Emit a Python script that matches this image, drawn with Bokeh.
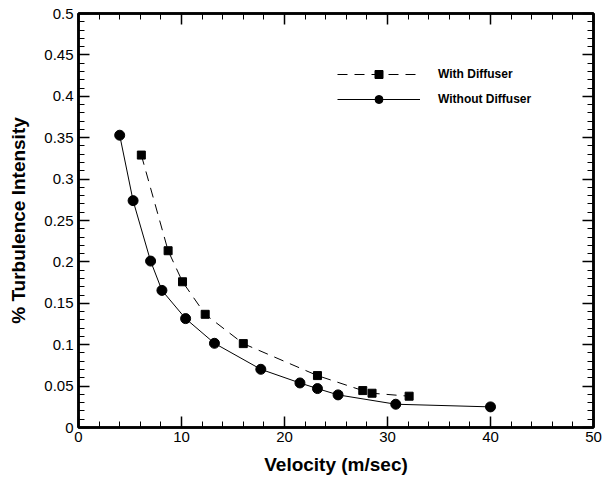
from bokeh.plotting import figure
from bokeh.models import LinearAxis, Range1d, Legend, LegendItem, FixedTicker, CustomJSTickFormatter
from bokeh.embed import file_html
from bokeh.resources import INLINE

# Data
with_x = [6.1, 8.7, 10.1, 12.3, 16.0, 23.2, 27.6, 28.5, 32.1]
with_y = [0.329, 0.2135, 0.176, 0.1367, 0.1013, 0.0627, 0.0446, 0.0414, 0.0378]
without_x = [4.0, 5.3, 7.0, 8.1, 10.4, 13.2, 17.7, 21.5, 23.2, 25.2, 30.8, 40.0]
without_y = [0.353, 0.274, 0.201, 0.1656, 0.1315, 0.1017, 0.0703, 0.0538, 0.047, 0.0394, 0.0281, 0.0249]
x_ticks = [0, 10, 20, 30, 40, 50]
y_ticks = [0, 0.05, 0.1, 0.15, 0.2, 0.25, 0.3, 0.35, 0.4, 0.45, 0.5]
x_minor = [v for v in range(0, 51, 2)]
y_minor = [round(i * 0.01, 2) for i in range(0, 51)]

FONT = "Liberation Sans"

p = figure(width=602, height=479, output_backend="svg", toolbar_location=None,
           x_range=Range1d(0, 50), y_range=Range1d(0, 0.5),
           x_axis_label="Velocity (m/sec)", y_axis_label="% Turbulence Intensity",
           min_border_left=78, min_border_right=9, min_border_top=13, min_border_bottom=52)
p.grid.visible = False
p.outline_line_color = "black"
p.outline_line_width = 2.5
p.background_fill_color = "white"
p.border_fill_color = "white"

def style_axis(ax, ticks, minor, labels=True):
    ax.ticker = FixedTicker(ticks=ticks, minor_ticks=minor)
    ax.axis_line_color = "black"
    ax.axis_line_width = 2.5
    ax.major_tick_in = 11
    ax.major_tick_out = 0
    ax.minor_tick_in = 6
    ax.minor_tick_out = 0
    ax.major_tick_line_width = 1.5
    ax.minor_tick_line_width = 1
    ax.major_tick_line_color = "black"
    ax.minor_tick_line_color = "black"
    if labels:
        ax.major_label_text_font = FONT
        ax.major_label_text_font_size = "15px"
        ax.major_label_text_color = "black"
        ax.axis_label_text_font = FONT
        ax.axis_label_text_font_size = "19px"
        ax.axis_label_text_font_style = "bold"
        ax.axis_label_text_color = "black"
    else:
        ax.formatter = CustomJSTickFormatter(code="return ''")
        ax.major_label_standoff = 0
        ax.axis_label = None

style_axis(p.xaxis[0], x_ticks, x_minor)
style_axis(p.yaxis[0], y_ticks, y_minor)
p.xaxis[0].major_label_standoff = 4
p.xaxis[0].axis_label_standoff = 9
p.yaxis[0].major_label_standoff = 5
p.yaxis[0].axis_label_standoff = 12

top = LinearAxis()
style_axis(top, x_ticks, x_minor, labels=False)
p.add_layout(top, "above")
right = LinearAxis()
style_axis(right, y_ticks, y_minor, labels=False)
p.add_layout(right, "right")

l1 = p.line(with_x, with_y, line_color="black", line_width=1, line_dash="10 7")
s1 = p.scatter(with_x, with_y, marker="square", size=8, fill_color="black", line_color="black")
l2 = p.line(without_x, without_y, line_color="black", line_width=1)
s2 = p.scatter(without_x, without_y, marker="circle", size=10, fill_color="black", line_color="black")

legend = Legend(items=[LegendItem(label="With Diffuser", renderers=[l1, s1]),
                       LegendItem(label="Without Diffuser", renderers=[l2, s2])],
                location=(259, 318), padding=0, margin=0, spacing=5,
                glyph_width=83, glyph_height=20, label_height=20, label_standoff=18,
                label_text_font=FONT, label_text_font_size="12px",
                label_text_font_style="bold", label_text_color="black",
                border_line_alpha=0, background_fill_alpha=0)
p.add_layout(legend, "center")

open("out.html", "w").write(file_html(p, INLINE))
